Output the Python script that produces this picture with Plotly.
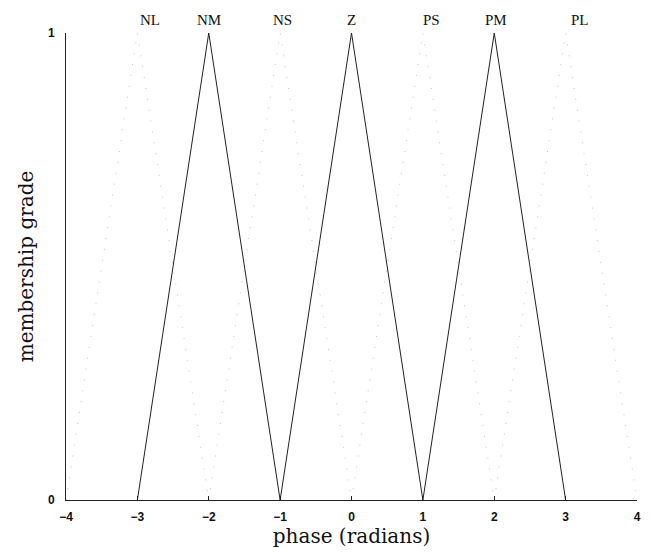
import plotly.graph_objects as go

# Membership functions (triangle vertices)
solid_sets = {
    "NM": ([-3, -2, -1], [0, 1, 0]),
    "Z": ([-1, 0, 1], [0, 1, 0]),
    "PM": ([1, 2, 3], [0, 1, 0]),
}
faint_sets = {
    "NL": ([-4, -3, -2], [0, 1, 0]),
    "NS": ([-2, -1, 0], [0, 1, 0]),
    "PS": ([0, 1, 2], [0, 1, 0]),
    "PL": ([2, 3, 4], [0, 1, 0]),
}
label_names = ["NL", "NM", "NS", "Z", "PS", "PM", "PL"]
label_x = [-2.83, -2.0, -0.97, 0.0, 1.12, 2.03, 3.2]

x_ticks = [-4, -3, -2, -1, 0, 1, 2, 3, 4]
y_ticks = [0, 1]

SERIF = "DejaVu Serif, serif"
TSERIF = "Liberation Serif, serif"
SANS = "Liberation Sans, Arial, sans-serif"

fig = go.Figure()
for name, (xs, ys) in faint_sets.items():
    fig.add_trace(go.Scatter(x=xs, y=ys, mode="lines", name=name,
                             line=dict(color="#c4c4c4", width=1, dash="1px,10px"),
                             showlegend=False, hoverinfo="skip"))
for name, (xs, ys) in solid_sets.items():
    fig.add_trace(go.Scatter(x=xs, y=ys, mode="lines", name=name,
                             line=dict(color="#222222", width=1),
                             showlegend=False))

for n, lx in zip(label_names, label_x):
    fig.add_annotation(x=lx, y=1.028, xref="x", yref="paper", text=n,
                       showarrow=False, font=dict(family=TSERIF, size=15, color="#111"),
                       yanchor="middle")

fig.update_layout(
    width=652, height=552,
    margin=dict(l=66, r=15, t=33, b=52),
    paper_bgcolor="white", plot_bgcolor="white",
    font=dict(family=SERIF, color="#111"),
    xaxis=dict(range=[-4, 4], tickvals=x_ticks, ticktext=[str(v).replace("-", "−") for v in x_ticks],
               showgrid=False, zeroline=False, showline=True, linecolor="#222", linewidth=1,
               ticks="inside", ticklen=4, tickcolor="#222", ticklabelstandoff=6,
               tickfont=dict(family=SANS, size=12, color="#111", weight="bold"),
               title=dict(text="phase (radians)", font=dict(family=SERIF, size=20), standoff=2)),
    yaxis=dict(range=[0, 1], tickvals=y_ticks, showgrid=False, zeroline=False,
               showline=True, linecolor="#222", linewidth=1,
               ticks="inside", ticklen=4, tickcolor="#222", ticklabelstandoff=8,
               tickfont=dict(family=SANS, size=12, color="#111", weight="bold"),
               title=dict(text="membership grade", font=dict(family=SERIF, size=20), standoff=8)),
)

fig.write_html("out.html")
